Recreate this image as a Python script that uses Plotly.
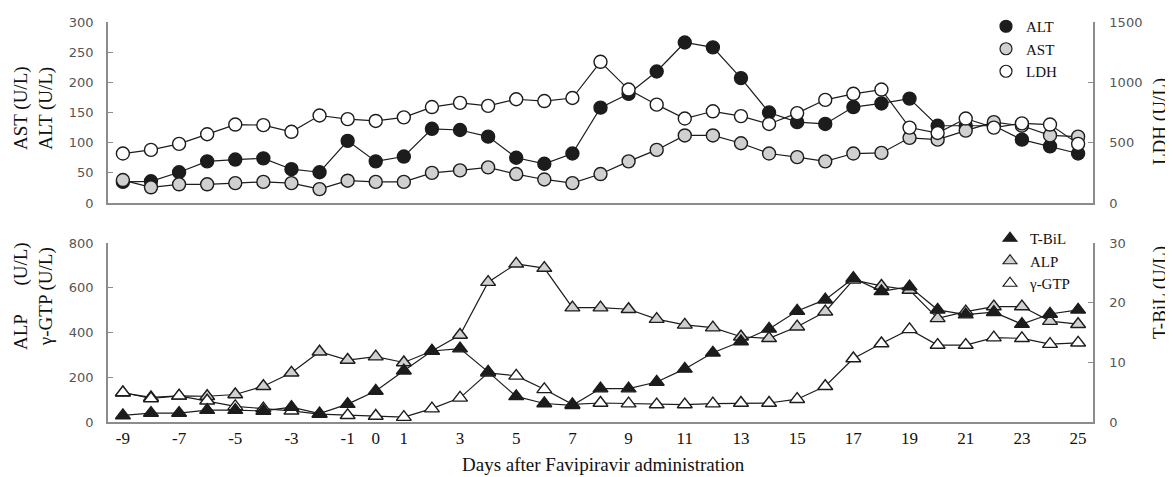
import plotly.graph_objects as go

days = [-9, -8, -7, -6, -5, -4, -3, -2, -1, 0, 1, 2, 3, 4, 5, 6, 7, 8, 9, 10, 11, 12,
        13, 14, 15, 16, 17, 18, 19, 20, 21, 22, 23, 24, 25]
x_ticks = [-9, -7, -5, -3, -1, 0, 1, 3, 5, 7, 9, 11, 13, 15, 17, 19, 21, 23, 25]

alt = [35, 36, 51, 69, 72, 74, 56, 51, 103, 69, 77, 123, 121, 110, 75, 65, 82, 158, 181, 218,
       266, 258, 207, 150, 134, 131, 159, 165, 173, 128, 128, 128, 105, 94, 82]
ast = [38, 26, 31, 31, 33, 35, 33, 23, 37, 35, 35, 50, 54, 59, 48, 39, 33, 48, 69, 88,
       112, 112, 99, 82, 76, 69, 82, 83, 108, 105, 120, 134, 128, 112, 110]
ldh = [410, 440, 490, 570, 650, 645, 590, 725, 695, 680, 710, 795, 830, 805, 860, 845, 870,
       1170, 940, 815, 700, 760, 720, 655, 745, 855, 905, 940, 625, 580, 700, 625, 660, 650, 490]

alp = [130, 110, 117, 115, 123, 160, 220, 314, 277, 292, 266, 317, 389, 625, 707, 688, 511,
       511, 504, 460, 434, 422, 381, 374, 426, 493, 635, 608, 590, 463, 493, 516, 516, 451, 437]
ggt = [132, 105, 117, 95, 70, 60, 50, 35, 30, 27, 22, 60, 108, 220, 206, 146, 79, 85, 82, 78,
       78, 82, 85, 85, 102, 160, 284, 351, 414, 344, 344, 377, 374, 348, 354]
tbil = [1.1, 1.5, 1.5, 2.0, 2.0, 1.85, 2.5, 1.4, 3.0, 5.2, 8.6, 11.9, 12.3, 8.4, 4.3, 3.1, 2.8,
        5.6, 5.6, 6.7, 8.9, 11.6, 13.5, 15.6, 18.6, 20.5, 24.1, 21.9, 22.7, 18.8, 18.0, 18.4,
        16.4, 18.1, 18.8]

BLACK = "#1c1c1c"
GRAY = "#d0d0d0"
WHITE = "#ffffff"
LINE = "#1c1c1c"
AXIS = "#8c8c8c"
SERIF = "Liberation Serif"

# page body margin offset (browser default)
OFF = 8
W, H = 1173 - OFF, 477 - OFF
# plot area in page pixels
P_L, P_R, P_T, P_B = 108, 1093, 22, 422
ML, MR, MT, MB = P_L - OFF, W - (P_R - OFF), P_T - OFF, H - (P_B - OFF)
PW, PH = P_R - P_L, P_B - P_T


def px(x):
    return (x - P_L) / PW


def py(y):
    return 1 - (y - P_T) / PH


fig = go.Figure()


def add_series(x, y, name, symbol, fill, xa, ya, size):
    fig.add_trace(go.Scatter(
        x=x, y=y, name=name, mode="lines+markers", xaxis=xa, yaxis=ya,
        line=dict(color=LINE, width=1.2),
        marker=dict(symbol=symbol, size=size, color=fill, line=dict(color=LINE, width=1.4)),
        showlegend=False, hoverinfo="x+y+name"))


def add_legend(name, symbol, fill, legend, rank, size):
    fig.add_trace(go.Scatter(
        x=[None], y=[None], name=name, mode="markers", legend=legend, legendrank=rank,
        marker=dict(symbol=symbol, size=size, color=fill, line=dict(color=LINE, width=1.2))))


# top panel
add_series(days, alt, "ALT", "circle", BLACK, "x", "y", 13)
add_series(days, ast, "AST", "circle", GRAY, "x", "y", 13)
add_series(days, ldh, "LDH", "circle", WHITE, "x", "y2", 13)
# bottom panel
add_series(days, alp, "ALP", "triangle-up", GRAY, "x2", "y3", 13)
add_series(days, ggt, "γ-GTP", "triangle-up", WHITE, "x2", "y3", 13)
add_series(days, tbil, "T-BiL", "triangle-up", BLACK, "x2", "y4", 13)

add_legend("ALT", "circle", BLACK, "legend", 1, 12)
add_legend("AST", "circle", GRAY, "legend", 2, 12)
add_legend("LDH", "circle", WHITE, "legend", 3, 12)
add_legend("T-BiL", "triangle-up", BLACK, "legend2", 1, 12)
add_legend("ALP", "triangle-up", GRAY, "legend2", 2, 12)
add_legend("γ-GTP", "triangle-up", WHITE, "legend2", 3, 12)

xr = [-9.53, 25.53]
tickfont = dict(family="DejaVu Sans", size=13, color="#555555")
yax_common = dict(showline=True, linecolor=AXIS, linewidth=1.5, ticks="inside", ticklen=5,
                  tickcolor=AXIS, tickwidth=1.2, showgrid=False, zeroline=False,
                  tickfont=tickfont, fixedrange=True)

top_dom = [py(203), 1]
bot_dom = [0, py(243)]

fig.update_layout(
    width=W, height=H,
    margin=dict(l=ML, r=MR, t=MT, b=MB, autoexpand=False),
    paper_bgcolor="white", plot_bgcolor="white",
    xaxis=dict(domain=[0, 1], anchor="y", range=xr, showline=True, linecolor=AXIS,
               linewidth=1.5, ticks="", showticklabels=False, showgrid=False,
               zeroline=False),
    yaxis=dict(domain=top_dom, anchor="x", range=[0, 300], dtick=50,
               ticklabelstandoff=10, **yax_common),
    yaxis2=dict(overlaying="y", anchor="x", side="right", range=[0, 1500], dtick=500,
                ticklabelstandoff=12, **yax_common),
    xaxis2=dict(domain=[0, 1], anchor="y3", range=xr, showline=True, linecolor=AXIS,
                linewidth=1.5, ticks="", tickvals=x_ticks,
                ticktext=[str(t) for t in x_ticks], showgrid=False, zeroline=False,
                tickfont=dict(family=SERIF, size=17, color="#111111")),
    yaxis3=dict(domain=bot_dom, anchor="x2", range=[0, 800], dtick=200,
                ticklabelstandoff=10, **yax_common),
    yaxis4=dict(overlaying="y3", anchor="x2", side="right", range=[0, 30], dtick=10,
                ticklabelstandoff=12, **yax_common),
    legend=dict(x=px(986), y=py(10), xanchor="left", yanchor="top",
                font=dict(family=SERIF, size=15, color="#111111"),
                bgcolor="rgba(0,0,0,0)", tracegroupgap=0, itemwidth=30),
    legend2=dict(x=px(990), y=py(222), xanchor="left", yanchor="top",
                 font=dict(family=SERIF, size=15, color="#111111"),
                 bgcolor="rgba(0,0,0,0)", tracegroupgap=0, itemwidth=30),
    showlegend=True,
)

title_font = dict(family=SERIF, size=19, color="#111111")
sp = "&nbsp;" * 6
annotations = [
    dict(text="AST (U/L)<br>ALT (U/L)", x=px(34), y=py(108)),
    dict(text="ALP" + sp + "(U/L)<br>γ-GTP (U/L)", x=px(33), y=py(296)),
    dict(text="LDH (U/L)", x=px(1160), y=py(122)),
    dict(text="T-BiL (U/L)", x=px(1160), y=py(293)),
]
for a in annotations:
    fig.add_annotation(xref="paper", yref="paper", xanchor="center", yanchor="middle",
                       textangle=-90, showarrow=False, font=title_font, borderpad=0, **a)
fig.add_annotation(text="Days after Favipiravir administration", xref="paper", yref="paper",
                   x=px(603), y=py(464), xanchor="center", yanchor="middle",
                   showarrow=False, font=dict(family=SERIF, size=19, color="#111111"))

fig.write_html("out.html")
